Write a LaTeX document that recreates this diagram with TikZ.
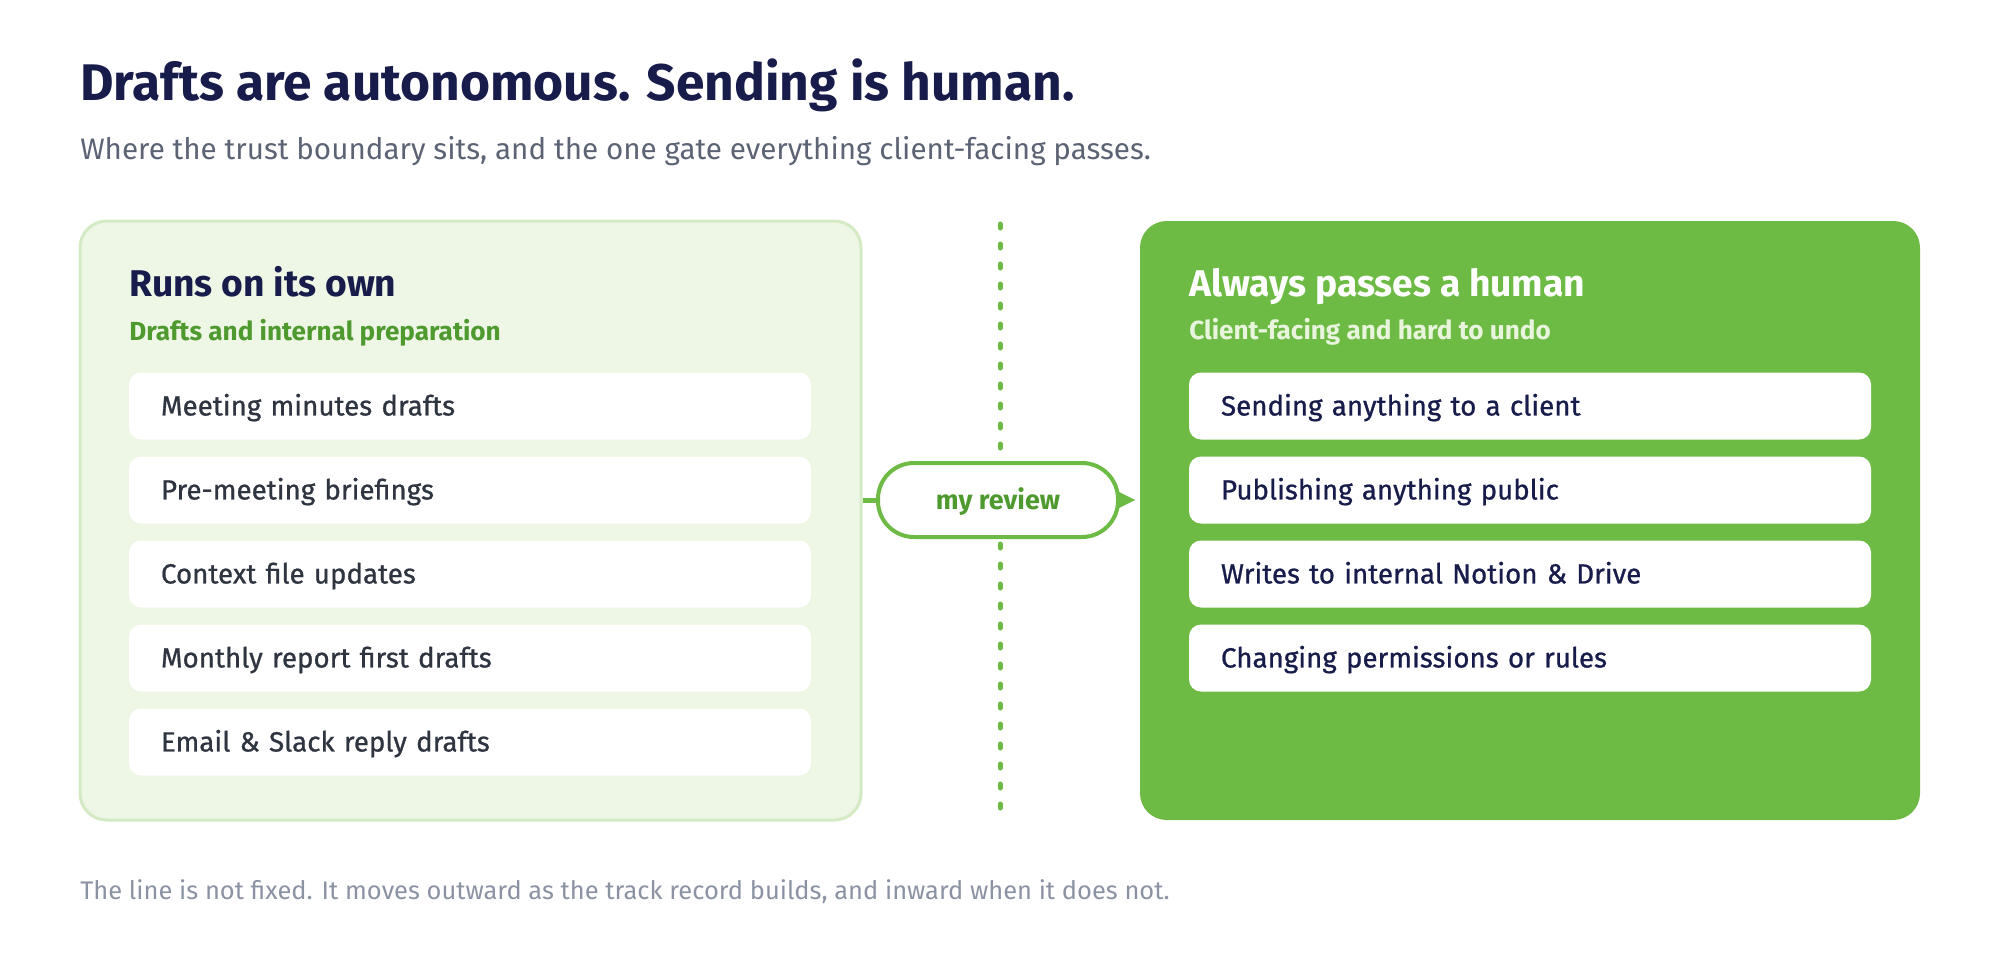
\documentclass[tikz,border=0pt]{standalone}
\usepackage{fontspec}
\setmainfont{Fira Sans}
\newfontfamily\itemfont{Fira Sans}[FakeBold=0.8]
\usetikzlibrary{arrows.meta}
\definecolor{navy}{HTML}{171C4B}
\definecolor{subgray}{HTML}{5B6374}
\definecolor{notegray}{HTML}{8A92A3}
\definecolor{leftfill}{HTML}{EEF6E6}
\definecolor{leftline}{HTML}{D4EAC4}
\definecolor{gate}{HTML}{6DBB45}
\definecolor{gatedark}{HTML}{4E9A2F}
\definecolor{itemink}{HTML}{2E3440}
\definecolor{paleink}{HTML}{E8F5DC}
\begin{document}
\begin{tikzpicture}[x=0.75pt,y=-0.75pt,
  ownbox/.style={draw=leftline,line width=2.25pt,fill=leftfill,rounded corners=20pt,minimum width=585.75pt,minimum height=449.25pt},
  humanbox/.style={fill=gate,rounded corners=20pt,minimum width=585pt,minimum height=449.25pt},
  item/.style={fill=white,rounded corners=9pt,text width=463.5pt,align=left,inner xsep=24pt,inner ysep=0pt,minimum height=50.25pt,text height=14.2pt,text depth=0pt,font=\itemfont\fontsize{20.8}{24}\selectfont},
  head/.style={anchor=base west,inner sep=0pt,font=\bfseries\fontsize{27.9}{32}\selectfont},
  subhead/.style={anchor=base west,inner sep=0pt,font=\bfseries\fontsize{19.6}{23}\selectfont},
  pill/.style={draw=gate,line width=3pt,fill=white,rounded corners=27pt,minimum width=180pt,minimum height=55.5pt,text height=13.8pt,text depth=0pt,text=gatedark,font=\bfseries\fontsize{20.2}{24}\selectfont},
  link/.style={draw=gate,line width=3.75pt}]
\useasboundingbox (0,0) rectangle (2000,960);
\node [anchor=base west,inner sep=0pt,text=navy,font=\bfseries\fontsize{38.6}{44}\selectfont] (title) at (80,100) {Drafts are autonomous. Sending is human.};
\node [anchor=base west,inner sep=0pt,text=subgray,font=\fontsize{22.2}{26}\selectfont] (sub) at (80,159) {Where the trust boundary sits, and the one gate everything client-facing passes.};
\node [ownbox] (own) at (470.5,520.5) {};
\node [humanbox] (human) at (1530,520.5) {};
\coordinate (gtop) at (1000,224);
\coordinate (gbot) at (1000,810);
\draw [gate,line width=3.75pt,line cap=round,dash pattern=on 3pt off 12pt] (gtop) -- (gbot);
\node [head,text=navy] (ownhead) at (129,296) {Runs on its own};
\node [subhead,text=gatedark] (ownsub) at (129,340) {Drafts and internal preparation};
\node [head,text=white] (humanhead) at (1189,296) {Always passes a human};
\node [subhead,text=paleink] (humansub) at (1189,339) {Client-facing and hard to undo};
\foreach \txt [count=\i] in {Meeting minutes drafts,Pre-meeting briefings,Context file updates,Monthly report first drafts,Email \& Slack reply drafts}
  \node [item,text=itemink] (own\i) at (470,322+84*\i) {\txt};
\foreach \txt [count=\i] in {Sending anything to a client,Publishing anything public,Writes to internal Notion \& Drive,Changing permissions or rules}
  \node [item,text=navy] (human\i) at (1530,322+84*\i) {\txt};
\node [pill] (review) at (998,500) {my review};
\draw [link] (own.east |- review) -- (review.west);
\draw [link,-{Triangle[length=13.5pt,width=12pt]},shorten >=3pt] (review.east) -- (human.west |- review);
\node [anchor=base west,inner sep=0pt,text=notegray,font=\fontsize{19.1}{23}\selectfont] (note) at (80,899) {The line is not fixed. It moves outward as the track record builds, and inward when it does not.};
\end{tikzpicture}
\end{document}
